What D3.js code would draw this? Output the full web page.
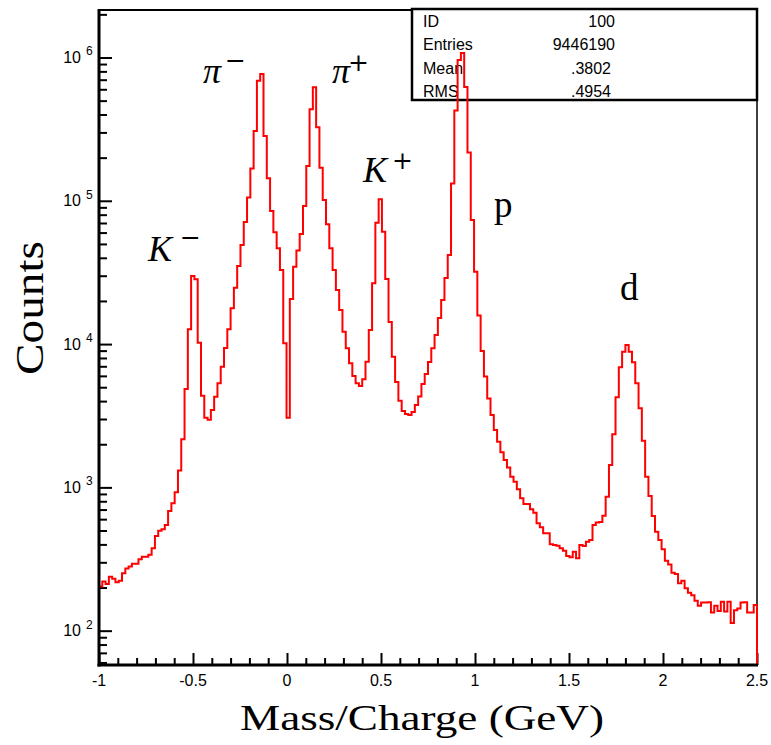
<!DOCTYPE html>
<html><head><meta charset="utf-8">
<script src="https://cdn.jsdelivr.net/npm/d3@7/dist/d3.min.js"></script>
<style>body{margin:0;background:#fff}</style>
</head><body>
<svg id="chart" width="771" height="745"></svg>
<script>
// ---------- data ----------
const binRange = [-1, 2.5];   // histogram range (200 equal bins)
const counts = [
  203, 220, 212, 238, 230, 218, 223, 252, 272, 280,
  293, 293, 315, 328, 328, 339, 376, 458, 499, 510,
  547, 684, 774, 925, 1309, 2168, 4863, 12680, 29870, 28330,
  10230, 4365, 3064, 2965, 3467, 4295, 5325, 6954, 9397, 12680,
  17780, 24760, 35080, 49170, 71120, 105400, 168000, 307000, 689000, 767000,
  283000, 143600, 84900, 60300, 46650, 32890, 10130, 3064, 20640, 34670,
  44980, 58650, 92000, 175000, 435000, 619000, 326000, 170300, 101300, 68550,
  46650, 32890, 23870, 17300, 12210, 9350, 7346, 5988, 5325, 5104,
  5679, 7534, 12540, 26550, 70310, 102400, 60850, 28460, 14260, 8166,
  5445, 4027, 3412, 3251, 3200, 3358, 3758, 4305, 5271, 6180,
  7500, 9350, 11570, 15210, 20320, 28920, 41880, 132100, 426600, 961000,
  1075000, 622000, 217300, 73450, 32010, 15840, 8950, 5943, 4171, 3200,
  2517, 2084, 1758, 1553, 1374, 1188, 1096, 970, 839, 766,
  766, 703, 666, 561, 527, 478, 478, 401, 396, 392,
  376, 361, 332, 325, 356, 320, 396, 390, 418, 430,
  547, 568, 574, 635, 861, 1432, 2349, 4256, 6887, 8851,
  9860, 8851, 7464, 5325, 3565, 2118, 1188, 871, 631, 491,
  430, 370, 308, 290, 254, 249, 214, 223, 198, 184,
  177, 162, 149, 157, 157, 158, 134, 149, 137, 159,
  136, 159, 113, 139, 143, 157, 158, 134, 134, 151
];
const xTickValues = [-1, -0.5, 0, 0.5, 1, 1.5, 2, 2.5];
const xTickLabels = ["-1", "-0.5", "0", "0.5", "1", "1.5", "2", "2.5"];
const yTickExponents = [2, 3, 4, 5, 6];
const statsNames = ["ID", "Entries", "Mean", "RMS"];
const statsValues = ["100", "9446190", ".3802", ".4954"];
const peakNames = ["K", "π", "π", "K", "p", "d"];
const peakCharges = ["−", "−", "+", "+", "", ""];
const xTitle = "Mass/Charge (GeV)";
const yTitle = "Counts";

// ---------- layout ----------
const L = 99, R = 757, T = 10, B = 665;
const svg = d3.select("#chart");
const x = d3.scaleLinear().domain(binRange).range([L, R]);
const y = d3.scaleLog().domain([57.6, 2.145e6]).range([B, T]);

const nb = counts.length;
const bw = (binRange[1] - binRange[0]) / nb;
const edges = d3.range(nb).map(i => binRange[0] + i * bw);

// stats box (drawn beneath the histogram)
const box = svg.append("g");
box.append("rect").attr("x", 412).attr("y", 9).attr("width", 345).attr("height", 91)
  .attr("fill", "#fff").attr("stroke", "#000").attr("stroke-width", 2.5);
statsNames.forEach((n, i) => {
  const by = 27 + i * 23.3;
  box.append("text").attr("x", 423).attr("y", by).text(n)
    .attr("font-family", "Liberation Sans, Arial, sans-serif").attr("font-size", 16);
  box.append("text").attr("x", i < 2 ? 615 : 611).attr("y", by).text(statsValues[i])
    .attr("text-anchor", "end")
    .attr("font-family", "Liberation Sans, Arial, sans-serif").attr("font-size", 16);
});

// frame
svg.append("line").attr("x1", L).attr("x2", 412).attr("y1", T).attr("y2", T)
  .attr("stroke", "#000").attr("stroke-width", 2);
svg.append("line").attr("x1", R).attr("x2", R).attr("y1", 100).attr("y2", B)
  .attr("stroke", "#000").attr("stroke-width", 1.5);

// ticks
function tickStyle(g) {
  g.select(".domain").remove();
  g.selectAll(".tick line").attr("stroke", "#000").attr("stroke-width", 2);
  g.selectAll(".tick text").remove();
}
const yMajor = yTickExponents.map(e => Math.pow(10, e));
const yMinor = [];
[1, 2, 3, 4, 5, 6].forEach(e => {
  for (let m = 2; m <= 9; m++) {
    const v = m * Math.pow(10, e);
    if (v >= y.domain()[0] && v <= y.domain()[1]) yMinor.push(v);
  }
});
svg.append("g").attr("transform", `translate(${L},0)`)
  .call(d3.axisRight(y).tickValues(yMajor).tickSize(13).tickFormat("")).call(tickStyle);
svg.append("g").attr("transform", `translate(${L},0)`)
  .call(d3.axisRight(y).tickValues(yMinor).tickSize(8).tickFormat("")).call(tickStyle);

const xMinor = d3.range(-10, 26).map(i => i / 10).filter(v => Math.abs(v * 2 - Math.round(v * 2)) > 1e-6);
svg.append("g").attr("transform", `translate(0,${B})`)
  .call(d3.axisTop(x).tickValues(xTickValues).tickSize(12).tickFormat("")).call(tickStyle);
svg.append("g").attr("transform", `translate(0,${B})`)
  .call(d3.axisTop(x).tickValues(xMinor).tickSize(7).tickFormat("")).call(tickStyle);

// tick labels
xTickValues.forEach((v, i) => {
  svg.append("text").attr("x", x(v)).attr("y", 686).attr("text-anchor", "middle")
    .attr("font-family", "Liberation Sans, Arial, sans-serif").attr("font-size", 16)
    .text(xTickLabels[i]);
});
yTickExponents.forEach(e => {
  const yy = y(Math.pow(10, e));
  svg.append("text").attr("x", 81).attr("y", yy + 5.5).attr("text-anchor", "end")
    .attr("font-family", "Liberation Sans, Arial, sans-serif").attr("font-size", 16).text("10");
  svg.append("text").attr("x", 86).attr("y", yy - 2)
    .attr("font-family", "Liberation Sans, Arial, sans-serif").attr("font-size", 12).text(String(e));
});

// histogram
const pts = [[binRange[0], y.domain()[0]]];
edges.forEach((e, i) => pts.push([e, counts[i]]));
pts.push([binRange[1], counts[nb - 1]]);
pts.push([binRange[1], y.domain()[0]]);
const line = d3.line().x(d => x(d[0])).y(d => y(d[1])).curve(d3.curveStepAfter);
svg.append("path").attr("d", line(pts)).attr("fill", "none")
  .attr("stroke", "#ff0000").attr("stroke-width", 2);

// axes lines (left & bottom)
svg.append("line").attr("x1", L).attr("x2", L).attr("y1", T - 1).attr("y2", B + 1.5)
  .attr("stroke", "#000").attr("stroke-width", 3);
svg.append("line").attr("x1", L - 1.5).attr("x2", R + 1).attr("y1", B).attr("y2", B)
  .attr("stroke", "#000").attr("stroke-width", 3);

// peak annotations (anchors in data units)
const anchors = [[-0.739, 3.80e4], [-0.447, 6.59e5], [0.239, 6.59e5], [0.404, 1.352e5], [1.101, 7.71e4], [1.771, 2.03e4]];
const supDx = [32, 22, 16, 29, 0, 0];
const supDy = [-15, -14, -12, -13, 0, 0];
peakNames.forEach((n, i) => {
  const px = x(anchors[i][0]), py = y(anchors[i][1]);
  const italic = i < 4;
  svg.append("text").attr("x", px).attr("y", py).text(n)
    .attr("font-family", "Liberation Serif, Times New Roman, serif")
    .attr("font-style", italic ? "italic" : "normal")
    .attr("font-size", italic ? 36 : 37);
  if (peakCharges[i]) {
    svg.append("text").attr("x", px + supDx[i]).attr("y", py + supDy[i]).text(peakCharges[i])
      .attr("font-family", "DejaVu Serif, serif").attr("font-size", 25);
  }
});

// axis titles
const xt = svg.append("text").attr("x", 422).attr("y", 730).attr("text-anchor", "middle")
  .attr("font-family", "Liberation Serif, Times New Roman, serif").attr("font-size", 36).text(xTitle);
xt.attr("textLength", 364).attr("lengthAdjust", "spacingAndGlyphs");
const yt = svg.append("text").attr("transform", "translate(43,308) rotate(-90)").attr("text-anchor", "middle")
  .attr("font-family", "Liberation Serif, Times New Roman, serif").attr("font-size", 40).text(yTitle);
yt.attr("textLength", 134).attr("lengthAdjust", "spacingAndGlyphs");
</script>
</body></html>
